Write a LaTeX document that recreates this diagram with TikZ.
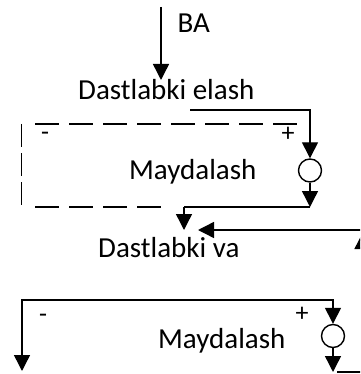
\documentclass[tikz,border=0pt]{standalone}
\usepackage{fontspec}
\setmainfont{Carlito}
\usetikzlibrary{arrows.meta}
\begin{document}
\begin{tikzpicture}[x=1pt,y=-1pt,
  tip/.tip={Triangle[length=16pt,width=16pt]},
  wire/.style={line width=1.4pt},
  conn/.style={wire,-tip},
  conn2/.style={wire,tip-tip},
  dashA/.style={wire,dash pattern=on 24pt off 10pt},
  dashB/.style={wire,dash pattern=on 23pt off 6pt},
  lbl/.style={font=\fontsize{29}{34}\selectfont, inner sep=0pt, anchor=base west},
  sgn/.style={font=\fontsize{26}{30}\selectfont, inner sep=0pt},
  sumc/.style={circle, draw, line width=1.4pt, minimum size=23pt, inner sep=0pt}]
\useasboundingbox (0,0) rectangle (360,374);
\clip (0,0) rectangle (360,374);
% texts
\node[lbl] (ba) at (177.5,33) {BA};
\node[lbl] (el) at (78,100) {Dastlabki elash};
\node[lbl] (m1) at (129,179) {Maydalash};
\node[lbl] (va) at (98,257) {Dastlabki va};
\node[lbl] (m2) at (158,348) {Maydalash};
\node[sgn] (p1) at (288,134) {+};
\node[sgn] (n1) at (45,136) {-};
\node[sgn] (p2) at (302,314) {+};
\node[sgn] (n2) at (43,318) {-};
% summing circles
\node[sumc] (s1) at (310,170.5) {};
\node[sumc] (s2) at (333,336) {};
% coordinates
\coordinate (in) at (161,7);
\coordinate (intip) at (161,80);
\coordinate (a1) at (190,110);
\coordinate (j1) at (310,207);
\coordinate (j2) at (184,207);
\coordinate (j2tip) at (184,230);
\coordinate (r1) at (363,230);
\coordinate (r1tip) at (198,230);
\coordinate (r2) at (362.5,380);
\coordinate (r2tip) at (362.5,233);
\coordinate (l1) at (22,300);
\coordinate (l2) at (22,371);
\coordinate (j3) at (333,372);
\coordinate (b1) at (337,372);
\coordinate (b2) at (363,372);
% connectors
\draw[conn] (in) -- (intip);
\draw[conn] (a1) -| (s1.north);
\draw[conn] (s1.south) -- (j1);
\draw[wire] (j1) -- (j2);
\draw[conn] (j2) -- (j2tip);
\draw[conn] (r1) -- (r1tip);
\draw[conn] (r2) -- (r2tip);
\draw[conn2] (l2) -- (l1) -| (s2.north);
\draw[conn] (s2.south) -- (j3);
\draw[wire] (b1) -- (b2);
% dashed frame
\draw[dashA] (35,124) -- (300,124);
\draw[dashA] (35,207) -- (161,207);
\draw[dashB] (21.5,124) -- (21.5,207);
\end{tikzpicture}
\end{document}
